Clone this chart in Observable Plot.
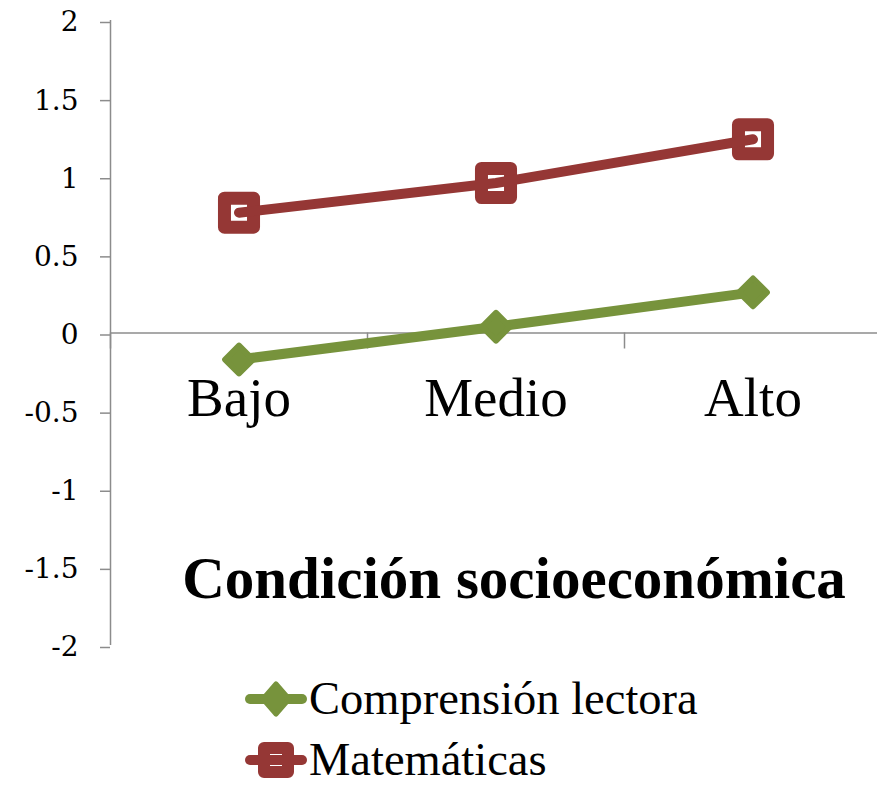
<!DOCTYPE html>
<html>
<head>
<meta charset="utf-8">
<script src="https://cdn.jsdelivr.net/npm/d3@7"></script>
<script src="https://cdn.jsdelivr.net/npm/@observablehq/plot@0.6"></script>
<style>
  html, body { margin: 0; padding: 0; background: #fff; }
  #chart svg { display: block; }
  #chart g[aria-label="y-axis tick label"] text { font-family: "DejaVu Serif", serif; }
  #legend { position: relative; padding-top: 8px; font-family: "Liberation Serif", "Times New Roman", serif; }
  .row { display: flex; align-items: center; height: 61px; margin-left: 245px; }
  .row span { display: block; font-size: 46.5px; line-height: 0.8; margin-left: 2px; color: #000; white-space: nowrap; }
  .row svg { display: block; }
</style>
</head>
<body>
<div id="chart"></div>
<div id="legend"></div>
<script>
// ---- data ----
const categories = ["Bajo", "Medio", "Alto"];
const seriesNames = ["Comprensión lectora", "Matemáticas"];
const lectora = [-0.17, 0.04, 0.26];
const matematicas = [0.77, 0.96, 1.24];
const yTicks = [-2, -1.5, -1, -0.5, 0, 0.5, 1, 1.5, 2];
const xTitle = "Condición socioeconómica";
const seriesColors = ["#77933C", "#953735"];

const lectoraData = categories.map((c, i) => ({cat: c, serie: seriesNames[0], v: lectora[i]}));
const mateData = categories.map((c, i) => ({cat: c, serie: seriesNames[1], v: matematicas[i]}));

// ---- layout ----
const W = 877, H = 660, mL = 110, mT = 20, mB = 15;
const xRange = [mL, 881];
const bw = (xRange[1] - xRange[0]) / categories.length;
const yDomain = [-2, 2];
const y0px = mT + (yDomain[1] - 0) / (yDomain[1] - yDomain[0]) * (H - mT - mB);
const axisGray = "#8c8c8c";

const chart = Plot.plot({
  width: W, height: H,
  marginLeft: mL, marginRight: 0, marginTop: mT, marginBottom: mB,
  style: {fontFamily: "'Liberation Serif', 'Times New Roman', serif", background: "white", overflow: "visible"},
  x: {type: "band", domain: categories, range: xRange, padding: 0},
  y: {domain: yDomain},
  marks: [
    // y axis line (left edge of first band)
    Plot.ruleX([categories[0]], {x: d => d, dx: -bw / 2, stroke: axisGray, strokeWidth: 1.5}),
    // x axis line at 0
    Plot.ruleY([0], {stroke: axisGray, strokeWidth: 1.5}),
    // category boundary ticks
    Plot.ruleX(categories, {x: d => d, dx: -bw / 2, y1: 0, y2: 0, insetBottom: -16, stroke: axisGray, strokeWidth: 1.5}),
    Plot.axisY(yTicks, {
      tickSize: 10, tickPadding: 22, tickFormat: d => String(d),
      stroke: axisGray, strokeWidth: 1.5,
      fontSize: 28, fontFamily: "'DejaVu Serif', serif", dy: 2, label: null
    }),
    Plot.axisX({
      anchor: "bottom", tickSize: 0, tickPadding: 44, dy: y0px - (H - mB),
      fontSize: 55, label: null
    }),
    Plot.text([xTitle], {
      frameAnchor: "bottom", lineAnchor: "bottom", dx: 20, dy: -48,
      fontSize: 59, fontWeight: "bold", fill: "#000"
    }),
    // Comprensión lectora
    Plot.line(lectoraData, {x: "cat", y: "v", stroke: seriesColors[0], strokeWidth: 10, strokeLinecap: "round", strokeLinejoin: "round"}),
    Plot.dot(lectoraData, {x: "cat", y: "v", symbol: "diamond2", r: 12.5, fill: seriesColors[0], stroke: seriesColors[0], strokeWidth: 6, strokeLinejoin: "round"}),
    // Matemáticas
    Plot.dot(mateData, {x: "cat", y: "v", symbol: "square", r: 16.4, fill: "white", stroke: seriesColors[1], strokeWidth: 13, strokeLinejoin: "round"}),
    Plot.line(mateData, {x: "cat", y: "v", stroke: seriesColors[1], strokeWidth: 10, strokeLinecap: "round", strokeLinejoin: "round"})
  ]
});
document.getElementById("chart").appendChild(chart);

// ---- legend ----
const legend = document.getElementById("legend");
const swatches = [
  (c) => `<svg width="62" height="40" viewBox="0 0 62 40">
      <line x1="5" y1="20" x2="57" y2="20" stroke="${c}" stroke-width="10" stroke-linecap="round"/>
      <path d="M31,5 L44,20 L31,35 L18,20 Z" fill="${c}" stroke="${c}" stroke-width="5" stroke-linejoin="round"/>
    </svg>`,
  (c) => `<svg width="62" height="40" viewBox="0 0 62 40">
      <rect x="19" y="8" width="24" height="24" fill="white" stroke="${c}" stroke-width="12" stroke-linejoin="round"/>
      <line x1="5" y1="20" x2="57" y2="20" stroke="${c}" stroke-width="10" stroke-linecap="round"/>
    </svg>`
];
seriesNames.forEach((name, i) => {
  const row = document.createElement("div");
  row.className = "row";
  row.innerHTML = swatches[i](seriesColors[i]) + `<span>${name}</span>`;
  legend.appendChild(row);
});
</script>
</body>
</html>
